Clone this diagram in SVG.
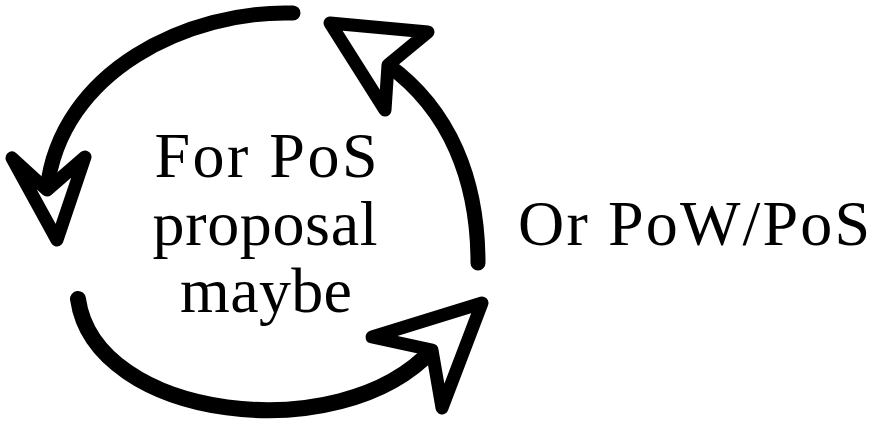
<svg xmlns="http://www.w3.org/2000/svg" width="872" height="431" viewBox="0 0 872 431">
<style>
.shaft{fill:none;stroke:#000;stroke-width:15;stroke-linecap:round;stroke-linejoin:round}
.head{fill:#fff;stroke:#000;stroke-width:13;stroke-linecap:round;stroke-linejoin:round}
.lbl{font-family:"Liberation Serif",serif;font-size:64px;fill:#000}
</style>
<rect width="872" height="431" fill="#fff"/>
<g id="connectors">
<g id="arrow-top-left">
<path class="shaft" d="M293,13 C190,10 60,70 47,190"/>
<polygon class="head" points="57,240 12,158 47,190 85,157"/>
</g>
<g id="arrow-right">
<path class="shaft" d="M478,263 C478,180 450,110 388,65"/>
<polygon class="head" points="330,23 428,32 388,65 385,110"/>
</g>
<g id="arrow-bottom">
<path class="shaft" style="stroke-width:16" d="M78,299 C95,420 340,450 432,350"/>
<polygon class="head" points="482,303 372,337 432,350 442,408"/>
</g>
</g>
<g id="center-label">
<text class="lbl" x="266" y="177" text-anchor="middle" textLength="223" lengthAdjust="spacing">For PoS</text>
<text class="lbl" x="265" y="245" text-anchor="middle" textLength="225" lengthAdjust="spacing">proposal</text>
<text class="lbl" x="266" y="312" text-anchor="middle" textLength="172" lengthAdjust="spacing">maybe</text>
</g>
<g id="side-label">
<text class="lbl" x="518" y="245" textLength="352" lengthAdjust="spacing">Or PoW/PoS</text>
</g>
</svg>
